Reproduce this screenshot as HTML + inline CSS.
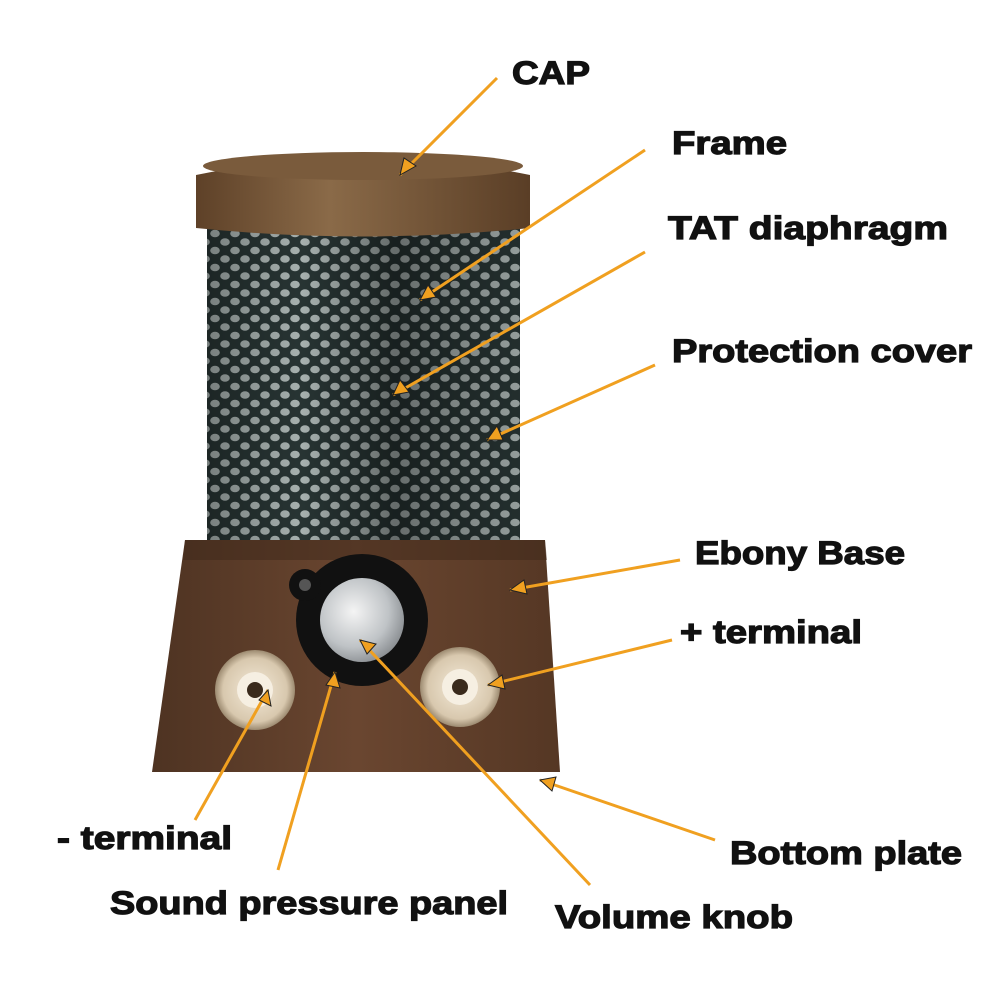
<!DOCTYPE html>
<html><head><meta charset="utf-8"><style>
html,body{margin:0;padding:0;background:#fff;width:1000px;height:1000px;overflow:hidden}
svg{display:block}
text{font-family:"Liberation Sans",Arial,sans-serif;font-weight:bold;font-size:32px;fill:#111;stroke:#111;stroke-width:1.2}
</style></head><body>
<svg width="1000" height="1000" viewBox="0 0 1000 1000" xmlns="http://www.w3.org/2000/svg">
<defs>
<pattern id="mesh" width="20" height="17" patternUnits="userSpaceOnUse">
<rect width="20" height="17" fill="#2c3a39"/>
<ellipse cx="5" cy="4" rx="4.8" ry="3.8" fill="#b9c4c2"/>
<ellipse cx="15" cy="12.5" rx="4.8" ry="3.8" fill="#b9c4c2"/>
</pattern>
<linearGradient id="shade" x1="0" x2="1">
<stop offset="0" stop-color="#000" stop-opacity="0.35"/>
<stop offset="0.3" stop-color="#000" stop-opacity="0.1"/>
<stop offset="0.6" stop-color="#000" stop-opacity="0.45"/>
<stop offset="1" stop-color="#000" stop-opacity="0.2"/>
</linearGradient>
<linearGradient id="cap" x1="0" x2="1">
<stop offset="0" stop-color="#5e4128"/>
<stop offset="0.4" stop-color="#8a6a48"/>
<stop offset="1" stop-color="#5a3e26"/>
</linearGradient>
<linearGradient id="wood" x1="0" x2="1">
<stop offset="0" stop-color="#4e3322"/>
<stop offset="0.5" stop-color="#6a4630"/>
<stop offset="1" stop-color="#553724"/>
</linearGradient>
<radialGradient id="knob" cx="0.4" cy="0.4" r="0.7">
<stop offset="0" stop-color="#f4f4f4"/>
<stop offset="0.6" stop-color="#bfc3c6"/>
<stop offset="1" stop-color="#7d8185"/>
</radialGradient>
<radialGradient id="term" cx="0.5" cy="0.5" r="0.5">
<stop offset="0" stop-color="#f4ead8"/>
<stop offset="0.8" stop-color="#d8c8ae"/>
<stop offset="1" stop-color="#9c8a70"/>
</radialGradient>
</defs>

<rect x="207" y="228" width="313" height="320" fill="url(#mesh)"/>
<rect x="207" y="228" width="313" height="320" fill="url(#shade)"/>

<path d="M196 175 Q363 140 530 175 L530 228 Q363 245 196 228 Z" fill="url(#cap)"/>
<ellipse cx="363" cy="166" rx="160" ry="14" fill="#7a5b3c"/>

<polygon points="185,540 545,540 560,772 152,772" fill="url(#wood)"/>
<polygon points="185,540 545,540 547,560 183,560" fill="#3e2819" opacity="0.5"/>

<circle cx="362" cy="620" r="66" fill="#111"/>
<circle cx="305" cy="585" r="16" fill="#111"/>
<circle cx="305" cy="585" r="6" fill="#555"/>
<circle cx="362" cy="620" r="42" fill="url(#knob)"/>

<circle cx="255" cy="690" r="40" fill="url(#term)"/>
<circle cx="255" cy="690" r="18" fill="#f6efe2"/>
<circle cx="255" cy="690" r="8" fill="#3a2a1c"/>
<circle cx="460" cy="687" r="40" fill="url(#term)"/>
<circle cx="460" cy="687" r="18" fill="#f6efe2"/>
<circle cx="460" cy="687" r="8" fill="#3a2a1c"/>

<g stroke="#f0a020" stroke-width="3" fill="none">
<line x1="497" y1="78" x2="400" y2="175"/>
<line x1="645" y1="150" x2="420" y2="300"/>
<line x1="645" y1="252" x2="393" y2="395"/>
<line x1="655" y1="365" x2="487" y2="440"/>
<line x1="680" y1="560" x2="510" y2="590"/>
<line x1="672" y1="640" x2="488" y2="685"/>
<line x1="715" y1="840" x2="540" y2="780"/>
<line x1="195" y1="820" x2="268" y2="690"/>
<line x1="278" y1="870" x2="335" y2="672"/>
<line x1="590" y1="885" x2="360" y2="640"/>
</g>
<g fill="#f0a020" stroke="#222" stroke-width="1">
<polygon points="400,175 404,158 416,166"/>
<polygon points="420,300 428,285 436,297"/>
<polygon points="393,395 400,380 409,392"/>
<polygon points="487,440 497,426 503,440"/>
<polygon points="510,590 524,580 527,594"/>
<polygon points="488,685 502,675 505,689"/>
<polygon points="540,780 556,777 552,791"/>
<polygon points="268,690 271,706 259,700"/>
<polygon points="335,672 340,688 326,685"/>
<polygon points="360,640 376,644 367,654"/>
</g>

<text x="512" y="84" textLength="78" lengthAdjust="spacingAndGlyphs">CAP</text>
<text x="672" y="154" textLength="115" lengthAdjust="spacingAndGlyphs">Frame</text>
<text x="668" y="239" textLength="280" lengthAdjust="spacingAndGlyphs">TAT diaphragm</text>
<text x="672" y="362" textLength="300" lengthAdjust="spacingAndGlyphs">Protection cover</text>
<text x="695" y="564" textLength="210" lengthAdjust="spacingAndGlyphs">Ebony Base</text>
<text x="680" y="643" textLength="182" lengthAdjust="spacingAndGlyphs">+ terminal</text>
<text x="730" y="864" textLength="232" lengthAdjust="spacingAndGlyphs">Bottom plate</text>
<text x="57" y="849" textLength="175" lengthAdjust="spacingAndGlyphs">- terminal</text>
<text x="110" y="914" textLength="398" lengthAdjust="spacingAndGlyphs">Sound pressure panel</text>
<text x="555" y="928" textLength="238" lengthAdjust="spacingAndGlyphs">Volume knob</text>
</svg>
</body></html>
